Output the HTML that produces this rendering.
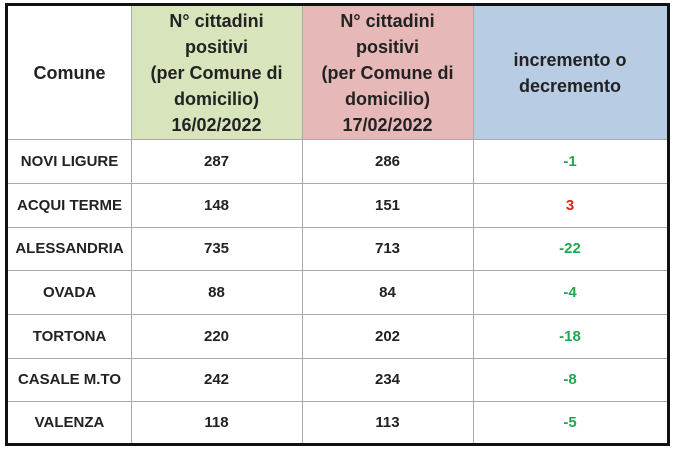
<!DOCTYPE html>
<html><head><style>
body{margin:0;width:678px;height:452px;background:#fff;position:relative;font-family:"Liberation Sans",sans-serif;font-weight:bold;color:#222}
.b{position:absolute;left:5px;top:3px;width:659px;height:437px;border:3px solid #111}
.c{position:absolute;display:flex;align-items:center;justify-content:center;text-align:center;box-sizing:border-box}
.h{font-size:18px;line-height:26px}
.r{font-size:15px}
.vl{position:absolute;top:6px;height:437px;width:1px;background:#aaa}
.hl{position:absolute;left:8px;width:659px;height:1px;background:#aaa}
</style></head><body>
<div class="b"></div>
<div class="c h" style="left:131px;top:6px;width:171px;height:133px;background:#d8e4bc">N° cittadini<br>positivi<br>(per Comune di<br>domicilio)<br>16/02/2022</div>
<div class="c h" style="left:302px;top:6px;width:171px;height:133px;background:#e6b8b7">N° cittadini<br>positivi<br>(per Comune di<br>domicilio)<br>17/02/2022</div>
<div class="c h" style="left:473px;top:6px;width:194px;height:133px;background:#b8cce4">incremento o<br>decremento</div>
<div class="c h" style="left:8px;top:6px;width:123px;height:133px">Comune</div>
<div class="vl" style="left:131px"></div><div class="vl" style="left:302px"></div><div class="vl" style="left:473px"></div>
<div class="hl" style="top:139px"></div><div class="hl" style="top:183px"></div><div class="hl" style="top:227px"></div><div class="hl" style="top:270px"></div><div class="hl" style="top:314px"></div><div class="hl" style="top:358px"></div><div class="hl" style="top:401px"></div>
<div id="rows"></div>
<script>
var d=[["NOVI LIGURE",287,286,"-1"],["ACQUI TERME",148,151,"3"],["ALESSANDRIA",735,713,"-22"],["OVADA",88,84,"-4"],["TORTONA",220,202,"-18"],["CASALE M.TO",242,234,"-8"],["VALENZA",118,113,"-5"]];
var tops=[139,183,227,270,314,358,401,444],h="";
d.forEach(function(r,i){var t=tops[i],ht=tops[i+1]-t;
h+='<div class="c r" style="left:8px;top:'+t+'px;width:123px;height:'+ht+'px">'+r[0]+'</div>';
h+='<div class="c r" style="left:131px;top:'+t+'px;width:171px;height:'+ht+'px">'+r[1]+'</div>';
h+='<div class="c r" style="left:302px;top:'+t+'px;width:171px;height:'+ht+'px">'+r[2]+'</div>';
h+='<div class="c r" style="left:473px;top:'+t+'px;width:194px;height:'+ht+'px;color:'+(r[3][0]=="-"?"#1ea84f":"#e0201b")+'">'+r[3]+'</div>';});
document.getElementById("rows").innerHTML=h;
</script>
</body></html>
